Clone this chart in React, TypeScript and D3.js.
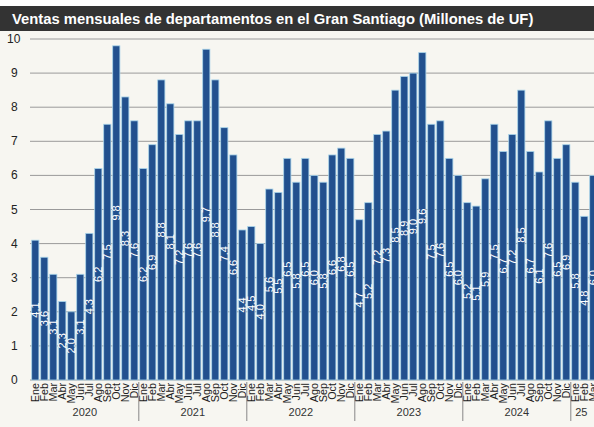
import React from "react";
import * as d3 from "d3";

const months = ["Ene","Feb","Mar","Abr","May","Jun","Jul","Ago","Sep","Oct","Nov","Dic"];
const years = ["2020","2021","2022","2023","2024","25"];
const values2020 = [4.1,3.6,3.1,2.3,2.0,3.1,4.3,6.2,7.5,9.8,8.3,7.6];
const values2021 = [6.2,6.9,8.8,8.1,7.2,7.6,7.6,9.7,8.8,7.4,6.6,4.4];
const values2022 = [4.5,4.0,5.6,5.5,6.5,5.8,6.5,6.0,5.8,6.6,6.8,6.5];
const values2023 = [4.7,5.2,7.2,7.3,8.5,8.9,9.0,9.6,7.5,7.6,6.5,6.0];
const values2024 = [5.2,5.1,5.9,7.5,6.7,7.2,8.5,6.7,6.1,7.6,6.5,6.9];
const values2025 = [5.8,4.8,6.0];
const yTicks = [0,1,2,3,4,5,6,7,8,9,10];

const W = 594, H = 427;
const allValues = [values2020, values2021, values2022, values2023, values2024, values2025];
const data = allValues.flatMap((arr, yi) => arr.map((v, mi) => ({ key: `${yi}-${mi}`, year: yi, month: months[mi], v })));

export default function App() {
  const x = d3.scaleBand<string>().domain(data.map(d => d.key)).range([30.8, 597.8]).paddingInner(0.2).paddingOuter(0.1);
  const y = d3.scaleLinear().domain([0, 10]).range([380, 39]);
  const step = x.step();
  const fmt = d3.format(".1f");
  const font = "Liberation Sans, Arial, sans-serif";
  return (
    <div style={{ position: "absolute", left: 0, top: 0 }}>
      <svg width={W} height={H} style={{ display: "block" }} fontFamily={font}>
        <rect x={0} y={0} width={W} height={H} fill="#f7f6f1" />
        <rect x={0} y={0} width={W} height={6} fill="#ffffff" />
        <rect x={0} y={6} width={W} height={25} fill="#333333" />
        <text x={12} y={24} fill="#ffffff" fontSize={14.8} fontWeight="bold">Ventas mensuales de departamentos en el Gran Santiago (Millones de UF)</text>
        {yTicks.map(t => (
          <g key={t}>
            <line x1={30} x2={W} y1={y(t)} y2={y(t)} stroke="#9a9a9a" strokeWidth={1} />
            <text x={t === 10 ? 7 : 11} y={y(t) + 4} fontSize={12} fill="#222">{t}</text>
          </g>
        ))}
        {data.map(d => {
          const bx = x(d.key)!;
          return (
            <rect key={d.key} x={bx} y={y(d.v)} width={x.bandwidth()} height={y(0) - y(d.v)} fill="#22508e" stroke="#a8d4ea" strokeWidth={0.8} />
          );
        })}
        {data.map(d => {
          const cx = x(d.key)! + x.bandwidth() / 2;
          const cy = y(d.v / 2);
          return (
            <text key={"v" + d.key} transform={`translate(${cx + 3.8},${cy}) rotate(-90)`} textAnchor="middle" fontSize={11} fill="#ffffff">{fmt(d.v)}</text>
          );
        })}
        {data.map(d => {
          const cx = x(d.key)! + x.bandwidth() / 2;
          return (
            <text key={"m" + d.key} transform={`translate(${cx + 3.6},383) rotate(-90)`} textAnchor="end" fontSize={10.8} fill="#222">{d.month}</text>
          );
        })}
        {allValues.map((arr, yi) => {
          const first = data.find(d => d.year === yi)!;
          const start = x(first.key)! - step * 0.1;
          const end = start + arr.length * step;
          return (
            <g key={"y" + yi}>
              <text x={(start + Math.min(end, W + 4)) / 2 + (yi === 5 ? -3 : 0)} y={416} textAnchor="middle" fontSize={11} fill="#333">{years[yi]}</text>
              {yi > 0 && <line x1={start} x2={start} y1={382} y2={421} stroke="#888" strokeWidth={1} />}
            </g>
          );
        })}
      </svg>
    </div>
  );
}
